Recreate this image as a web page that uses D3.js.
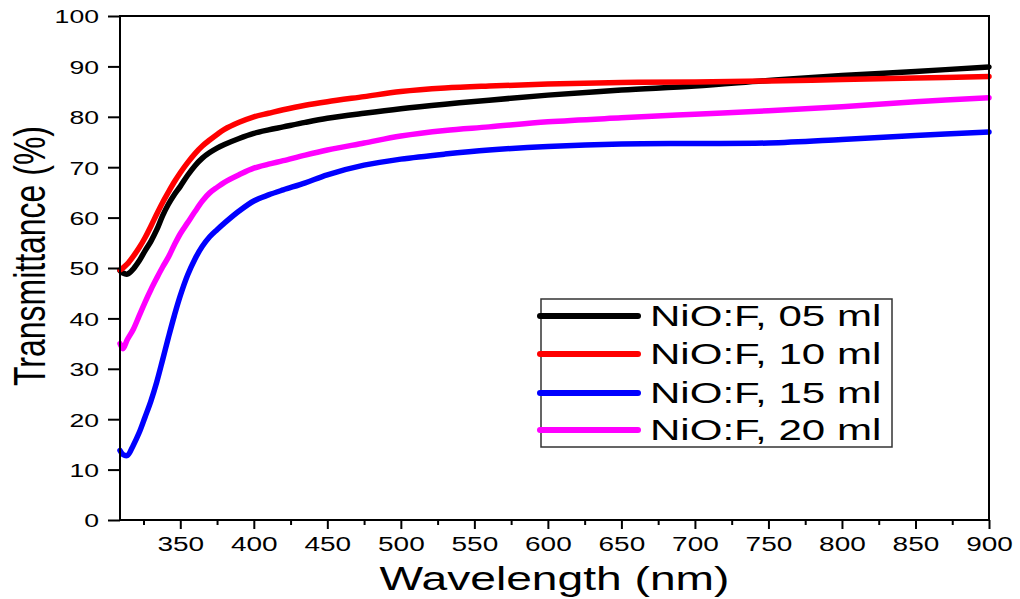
<!DOCTYPE html>
<html>
<head>
<meta charset="utf-8">
<script src="https://cdn.jsdelivr.net/npm/d3@7"></script>
<style>
  html, body { margin: 0; padding: 0; background: #fff; }
  svg { display: block; }
  text { font-family: Arial, "Liberation Sans", sans-serif; fill: #000; }
</style>
</head>
<body>
<svg id="chart" width="1020" height="599"></svg>
<script>
// Wavelength grid (nm) shared by all spectra
const wavelength = [309, 311, 314, 318, 322, 326, 330, 334, 338, 342, 346, 350, 355, 360, 365, 370, 375, 380, 390, 400, 410, 420, 435, 450, 475, 500, 530, 560, 600, 650, 700, 750, 800, 850, 900];

// Transmittance (%) of NiO:F films for each precursor volume
const t05 = [49.5, 49.0, 48.8, 49.8, 51.4, 53.4, 55.3, 57.6, 60.4, 62.7, 64.6, 66.2, 68.4, 70.3, 71.8, 72.9, 73.8, 74.5, 75.7, 76.7, 77.4, 78.0, 78.9, 79.7, 80.7, 81.6, 82.5, 83.3, 84.3, 85.3, 86.1, 87.2, 88.2, 89.0, 89.9];
const t10 = [49.6, 50.0, 50.8, 52.3, 54.0, 56.0, 58.3, 60.7, 63.0, 65.1, 67.1, 68.9, 70.9, 72.7, 74.2, 75.4, 76.5, 77.5, 78.9, 80.0, 80.7, 81.4, 82.3, 83.0, 84.0, 85.0, 85.7, 86.1, 86.5, 86.8, 86.9, 87.1, 87.4, 87.7, 88.0];
const t15 = [13.8, 13.0, 12.8, 14.8, 17.3, 20.4, 23.6, 27.4, 31.8, 36.3, 40.6, 44.5, 48.6, 51.8, 54.3, 56.2, 57.6, 58.9, 61.3, 63.3, 64.5, 65.5, 66.9, 68.5, 70.4, 71.6, 72.6, 73.4, 74.1, 74.6, 74.7, 74.8, 75.5, 76.3, 77.0];
const t20 = [35.0, 34.0, 35.8, 37.8, 40.5, 43.2, 45.7, 48.0, 50.2, 52.2, 54.6, 56.8, 59.0, 61.2, 63.3, 64.9, 66.0, 67.0, 68.5, 69.8, 70.6, 71.3, 72.4, 73.4, 74.8, 76.2, 77.3, 78.0, 79.0, 79.8, 80.5, 81.2, 82.0, 83.0, 83.8];

const seriesNames = ["NiO:F, 05 ml", "NiO:F, 10 ml", "NiO:F, 15 ml", "NiO:F, 20 ml"];
const seriesColors = ["#000000", "#ff0000", "#0000ff", "#ff00ff"];
const seriesValues = [t05, t10, t15, t20];

const xTicks = [350, 400, 450, 500, 550, 600, 650, 700, 750, 800, 850, 900];
const xMinorTicks = [325, 375, 425, 475, 525, 575, 625, 675, 725, 775, 825, 875];
const yTicks = [0, 10, 20, 30, 40, 50, 60, 70, 80, 90, 100];

// Plot frame
const plotLeft = 120, plotRight = 989, plotTop = 16, plotBottom = 520;
const stretch = 1.4; // horizontal glyph stretch used throughout the figure

const svg = d3.select("#chart");

const x = d3.scaleLinear().domain([309, 900]).range([plotLeft, plotRight]);
const y = d3.scaleLinear().domain([0, 100]).range([plotBottom, plotTop]);

// Curves
const line = d3.line()
  .x((d, i) => x(wavelength[i]))
  .y(d => y(d))
  .curve(d3.curveCatmullRom.alpha(0.5));

const curves = svg.append("g");
// draw order: magenta, blue, black, red on top where they overlap
[3, 2, 0, 1].forEach(k => {
  curves.append("path")
    .datum(seriesValues[k])
    .attr("d", line)
    .attr("fill", "none")
    .attr("stroke", seriesColors[k])
    .attr("stroke-width", 5.5)
    .attr("stroke-linejoin", "round")
    .attr("stroke-linecap", "round");
});

// Frame box
svg.append("rect")
  .attr("x", plotLeft).attr("y", plotTop)
  .attr("width", plotRight - plotLeft).attr("height", plotBottom - plotTop)
  .attr("fill", "none").attr("stroke", "#000").attr("stroke-width", 2);

// Y axis
const yAxis = svg.append("g")
  .attr("transform", `translate(${plotLeft},0)`)
  .call(d3.axisLeft(y).tickValues(yTicks).tickSize(12).tickFormat(d3.format("d")));
yAxis.select(".domain").remove();
yAxis.selectAll("line").attr("stroke", "#000").attr("stroke-width", 2);
yAxis.selectAll("text")
  .attr("x", 0).attr("dy", "0.36em")
  .attr("transform", `translate(-21,0) scale(${stretch},1)`)
  .style("font-size", "19px")
  .style("font-family", "Arial, 'Liberation Sans', sans-serif")
  .attr("fill", "#000");

// X axis: major ticks with labels, minor ticks without
const xAxis = svg.append("g")
  .attr("transform", `translate(0,${plotBottom})`)
  .call(d3.axisBottom(x).tickValues(xTicks).tickSize(9).tickFormat(d3.format("d")));
xAxis.select(".domain").remove();
xAxis.selectAll("line").attr("stroke", "#000").attr("stroke-width", 2);
xAxis.selectAll("text")
  .attr("y", 31).attr("dy", 0)
  .attr("transform", `scale(${stretch},1)`)
  .style("font-size", "20px")
  .style("font-family", "Arial, 'Liberation Sans', sans-serif")
  .attr("fill", "#000");

const xMinor = svg.append("g")
  .attr("transform", `translate(0,${plotBottom})`)
  .call(d3.axisBottom(x).tickValues(xMinorTicks).tickSize(5).tickFormat(""));
xMinor.select(".domain").remove();
xMinor.selectAll("line").attr("stroke", "#000").attr("stroke-width", 2);

// Axis titles
svg.append("text")
  .attr("text-anchor", "middle")
  .attr("transform", `translate(${(plotLeft + plotRight) / 2},590) scale(${stretch},1)`)
  .style("font-size", "33px")
  .text("Wavelength (nm)");

svg.append("text")
  .attr("text-anchor", "middle")
  .attr("transform", `translate(45,256) scale(${stretch},1) rotate(-90)`)
  .style("font-size", "32px")
  .text("Transmittance (%)");

// Legend
const legend = svg.append("g");
legend.append("rect")
  .attr("x", 541).attr("y", 299).attr("width", 351).attr("height", 148)
  .attr("fill", "#fff").attr("stroke", "#333").attr("stroke-width", 1.5);

const rowY = [316, 354, 393, 430];
seriesNames.forEach((name, i) => {
  legend.append("line")
    .attr("x1", 540).attr("x2", 638)
    .attr("y1", rowY[i]).attr("y2", rowY[i])
    .attr("stroke", seriesColors[i]).attr("stroke-width", 6)
    .attr("stroke-linecap", "round");
  legend.append("text")
    .attr("transform", `translate(650,${rowY[i] + 10}) scale(1.45,1)`)
    .style("font-size", "29px")
    .text(name);
});
</script>
</body>
</html>
